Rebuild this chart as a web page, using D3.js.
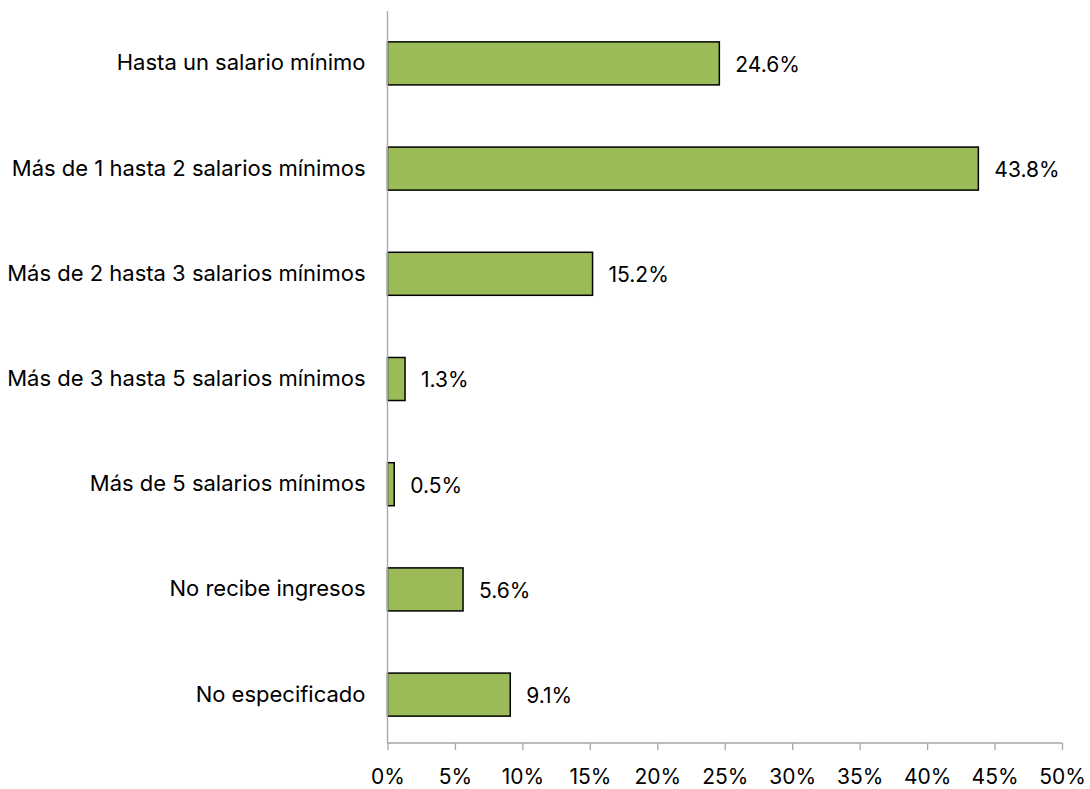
<!DOCTYPE html>
<meta charset="utf-8">
<body style="margin:0;background:#fff">
<script src="https://d3js.org/d3.v7.min.js"></script>
<style>
  body { font-family: Inter, "Open Sans", sans-serif; }
  .axis text { font-size: 21px; fill: #000; font-family: Inter, "Open Sans", sans-serif; }
  .y.axis text { font-size: 22px; }
</style>
<script>
// categories and values (percent)
var categories = ["Hasta un salario mínimo", "Más de 1 hasta 2 salarios mínimos", "Más de 2 hasta 3 salarios mínimos",
                  "Más de 3 hasta 5 salarios mínimos", "Más de 5 salarios mínimos", "No recibe ingresos", "No especificado"];
var values = [24.6, 43.8, 15.2, 1.3, 0.5, 5.6, 9.1];
var ticks = [0, 5, 10, 15, 20, 25, 30, 35, 40, 45, 50];

var margin = {top: 11, right: 28, bottom: 46, left: 387.5},
    width = 1090 - margin.left - margin.right,
    height = 789 - margin.top - margin.bottom;

var svg = d3.select("body").append("svg")
    .attr("width", 1090)
    .attr("height", 789)
  .append("g")
    .attr("transform", "translate(" + margin.left + "," + margin.top + ")");

var x = d3.scaleLinear().domain([0, 50]).range([0, width]);
var y = d3.scaleBand().domain(categories).range([2, height + 2]).paddingInner(0.591).paddingOuter(0.2745);

// x axis
var xAxis = svg.append("g")
    .attr("class", "x axis")
    .attr("transform", "translate(0," + height + ")")
    .call(d3.axisBottom(x).tickValues(ticks).tickSize(7).tickPadding(19).tickFormat(function(d) { return d + "%"; }));
xAxis.select(".domain").attr("stroke", "#a6a6a6").attr("stroke-width", 1.3).attr("d", "M0,0H" + width);
xAxis.selectAll(".tick line").attr("stroke", "#a6a6a6").attr("stroke-width", 1.3);

// bars
svg.selectAll(".bar")
    .data(values)
  .enter().append("rect")
    .attr("class", "bar")
    .attr("x", 0)
    .attr("y", function(d, i) { return y(categories[i]); })
    .attr("width", function(d) { return x(d); })
    .attr("height", y.bandwidth())
    .attr("fill", "#9bbb59")
    .attr("stroke", "#000")
    .attr("stroke-width", 1.5);

// y axis
var yAxis = svg.append("g")
    .attr("class", "y axis")
    .call(d3.axisLeft(y).tickSize(0).tickPadding(22));
yAxis.select(".domain").attr("stroke", "#a6a6a6").attr("stroke-width", 1.3).attr("d", "M0,0V" + height);

// value labels
svg.selectAll(".val")
    .data(values)
  .enter().append("text")
    .attr("class", "val")
    .attr("x", function(d) { return x(d) + 16; })
    .attr("y", function(d, i) { return y(categories[i]) + y.bandwidth() / 2 + 1; })
    .attr("dy", "0.35em")
    .style("font-size", "21px")
    .text(function(d) { return d.toFixed(1) + "%"; });
</script>
</body>
